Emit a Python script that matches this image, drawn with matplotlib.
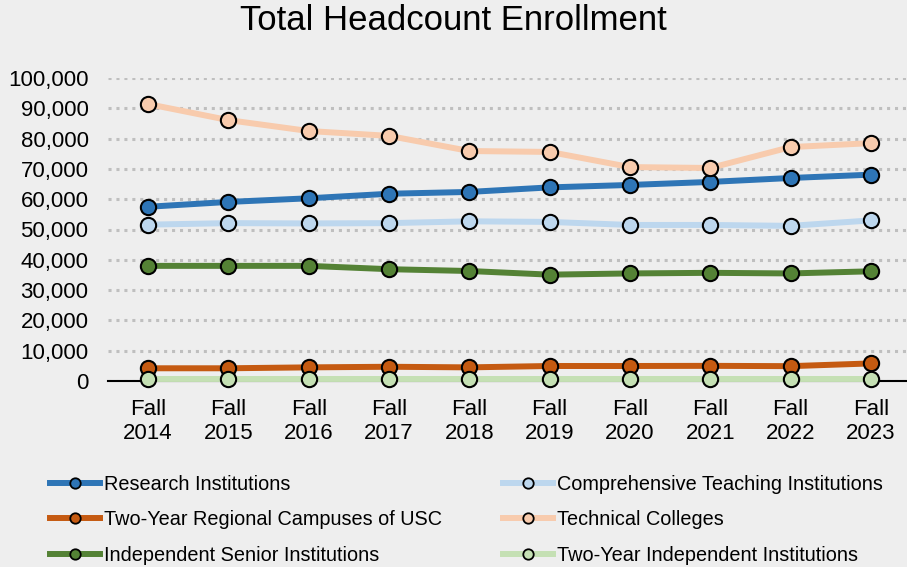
import matplotlib
matplotlib.use("Agg")
import matplotlib.pyplot as plt
from matplotlib.ticker import FuncFormatter

plt.rcParams['font.family'] = ['Liberation Sans', 'DejaVu Sans']

years = ["Fall\n2014", "Fall\n2015", "Fall\n2016", "Fall\n2017", "Fall\n2018",
         "Fall\n2019", "Fall\n2020", "Fall\n2021", "Fall\n2022", "Fall\n2023"]

research = [57500, 59100, 60300, 61800, 62400, 63900, 64700, 65700, 67000, 68100]
comprehensive = [51600, 52100, 52000, 52100, 52700, 52500, 51500, 51500, 51200, 53000]
regional_usc = [4200, 4200, 4500, 4700, 4500, 4950, 4950, 5000, 4900, 5800]
technical = [91400, 86100, 82500, 80900, 75900, 75600, 70600, 70300, 77200, 78500]
indep_senior = [38000, 38000, 38000, 36900, 36300, 35100, 35500, 35700, 35500, 36200]
two_year_indep = [700, 700, 700, 700, 700, 700, 700, 700, 700, 700]

series = [
    ("Research Institutions", research, "#2E75B6"),
    ("Two-Year Regional Campuses of USC", regional_usc, "#C55A11"),
    ("Independent Senior Institutions", indep_senior, "#548235"),
    ("Comprehensive Teaching Institutions", comprehensive, "#BDD7EE"),
    ("Technical Colleges", technical, "#F8CBAD"),
    ("Two-Year Independent Institutions", two_year_indep, "#C5E0B4"),
]

bg = "#EEEEEE"
fig = plt.figure(figsize=(9.07, 5.67), dpi=100, facecolor=bg)
ax = fig.add_axes([108 / 907, 1 - 381 / 567, 1 - 108 / 907, (381 - 78) / 567])
ax.set_facecolor(bg)

x = list(range(len(years)))
# draw order: back to front like the original
draw_order = [4, 0, 3, 2, 1, 5]
for i in draw_order:
    name, vals, col = series[i]
    ax.plot(x, vals, color=col, lw=4.3, marker="o", ms=11, mfc=col,
            mec="black", mew=1.5, clip_on=False, zorder=3 + i * 0.1)

ax.set_xlim(-0.5, 9.45)
ax.set_ylim(0, 100000)
ax.set_yticks(range(0, 100001, 10000))
ax.yaxis.set_major_formatter(FuncFormatter(lambda v, p: f"{int(v):,}"))
ax.set_xticks(x)
ax.set_xticklabels(years)
ax.tick_params(axis="both", length=0, labelsize=16)
ax.tick_params(axis="x", pad=13)
ax.tick_params(axis="y", pad=14)
ax.yaxis.grid(True, color="#BFBFBF", lw=2.2, linestyle=(0, (1, 1.6)))
ax.set_axisbelow(True)
for s in ["top", "left", "right"]:
    ax.spines[s].set_visible(False)
ax.spines["bottom"].set_color("black")
ax.spines["bottom"].set_linewidth(1.5)
ax.spines["bottom"].set_zorder(2.5)

fig.text(0.5, 1 - 20 / 567, "Total Headcount Enrollment", ha="center", va="center", fontsize=25)

handles = []
labels = []
for name, vals, col in series:
    h, = ax.plot([], [], color=col, lw=4.3, marker="o", ms=7.5, mfc=col, mec="black", mew=1.3)
    handles.append(h)
    labels.append(name)
fig.legend(handles, labels, ncol=2, loc="upper left", bbox_to_anchor=(50 / 907, 1 - 475 / 567),
           frameon=False, fontsize=14.3, handlelength=2.5, handletextpad=0.2, borderpad=0,
           borderaxespad=0, columnspacing=3.1, labelspacing=0.82)

fig.savefig("out.png", dpi=100, facecolor=bg)
